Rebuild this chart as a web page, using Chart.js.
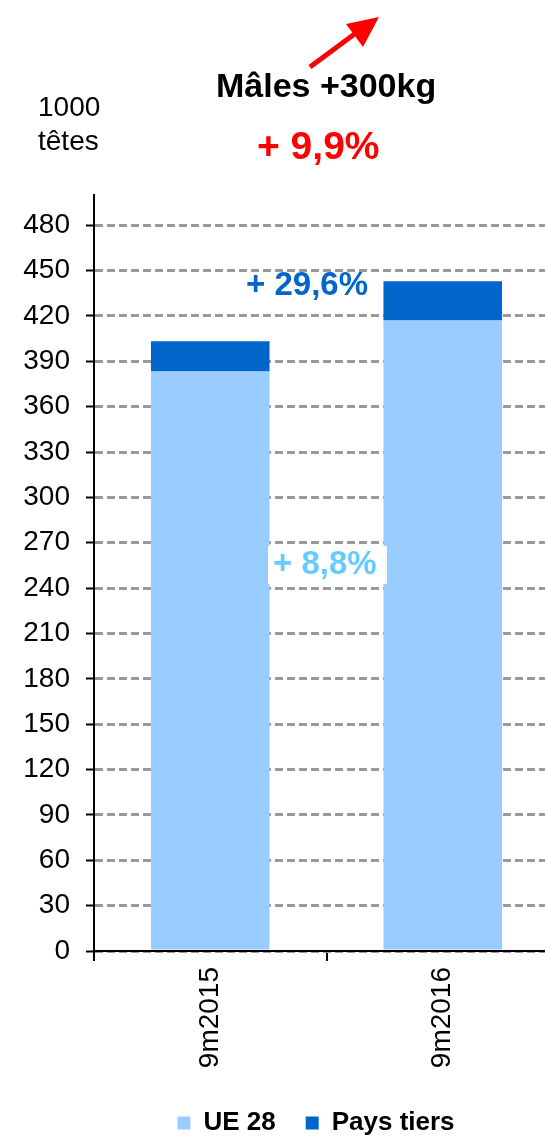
<!DOCTYPE html>
<html>
<head>
<meta charset="utf-8">
<script src="https://cdn.jsdelivr.net/npm/chart.js@4/dist/chart.umd.min.js"></script>
<style>
    html, body { margin: 0; padding: 0; background: #fff; overflow: hidden; width: 545px; height: 1136px; }
    #wrap { position: absolute; left: 0; top: 0; width: 559px; height: 1146px; }
</style>
</head>
<body>
<div id="wrap"><canvas id="bar-chartcanvas" width="559" height="1146"></canvas></div>
<script>
// data
var categories = ["9m2015", "9m2016"];
var ue28 = [383.3, 417.0];
var paysTiers = [20.0, 25.9];
var yTickValues = [0, 30, 60, 90, 120, 150, 180, 210, 240, 270, 300, 330, 360, 390, 420, 450, 480];
var seriesNames = ["UE 28", "Pays tiers"];

var FONT = "'Liberation Sans', Arial, sans-serif";

//texts and arrow drawn over the chart
var annotations = {
    id: "annotations",
    afterLayout: function(chart) {
        //move the legend a bit to the left, like the original
        chart.legend.left -= 21;
    },
    afterDraw: function(chart) {
        var c = chart.ctx;
        c.save();
        c.textAlign = "left";
        c.textBaseline = "middle";

        c.fillStyle = "#000";
        c.font = "28px " + FONT;
        c.fillText("1000", 38, 108);
        c.fillText("têtes", 38, 142);

        c.font = "bold 34px " + FONT;
        c.fillText("Mâles +300kg", 216, 88);

        c.fillStyle = "#FF0000";
        c.font = "bold 39px " + FONT;
        c.fillText("+ 9,9%", 257, 148);

        c.fillStyle = "#0066CC";
        c.font = "bold 33px " + FONT;
        c.fillText("+ 29,6%", 246, 286);

        c.fillStyle = "#fff";
        c.fillRect(268, 546, 119, 38);
        c.fillStyle = "#66CCFF";
        c.fillText("+ 8,8%", 273, 565);

        //red arrow
        c.strokeStyle = "#FF0000";
        c.fillStyle = "#FF0000";
        c.lineWidth = 5;
        c.beginPath();
        c.moveTo(310, 67);
        c.lineTo(364, 27);
        c.stroke();
        c.beginPath();
        c.moveTo(379, 17);
        c.lineTo(346, 24);
        c.lineTo(363, 47);
        c.closePath();
        c.fill();
        c.restore();
    }
};

var ctx1 = document.getElementById("bar-chartcanvas");

var data1 = {
    labels: categories,
    datasets: [
        {
            label: seriesNames[0],
            data: ue28,
            backgroundColor: "#99CCFF",
            barPercentage: 0.51,
            categoryPercentage: 1.0
        },
        {
            label: seriesNames[1],
            data: paysTiers,
            backgroundColor: "#0066CC",
            barPercentage: 0.51,
            categoryPercentage: 1.0
        }
    ]
};

var options = {
    responsive: false,
    animation: false,
    layout: {
        padding: { top: 195, left: 0, right: 0, bottom: 0 }
    },
    plugins: {
        title: { display: false },
        tooltip: { enabled: false },
        legend: {
            display: true,
            position: "bottom",
            fullSize: false,
            labels: {
                boxWidth: 13,
                boxHeight: 13,
                padding: 30,
                color: "#000",
                font: { family: FONT, size: 26, weight: "bold" }
            }
        }
    },
    scales: {
        x: {
            stacked: true,
            afterFit: function(scale) { scale.height = 129; },
            grid: {
                offset: true,
                drawOnChartArea: false,
                color: "#000",
                lineWidth: 2,
                tickLength: 10
            },
            border: { color: "#000", width: 2 },
            ticks: {
                color: "#000",
                font: { family: FONT, size: 28 },
                minRotation: 90,
                maxRotation: 90,
                padding: 6
            }
        },
        y: {
            stacked: true,
            min: 0,
            max: 500,
            afterFit: function(scale) { scale.width = 94; },
            afterBuildTicks: function(scale) {
                scale.ticks = yTickValues.map(function(v) { return { value: v }; });
            },
            grid: {
                color: "#999999",
                lineWidth: 3,
                tickColor: "#000",
                tickWidth: 2,
                tickLength: 8
            },
            border: { color: "#000", width: 2, dash: [8, 4] },
            ticks: {
                color: "#000",
                font: { family: FONT, size: 28 },
                padding: 16
            }
        }
    }
};

var chart1 = new Chart(ctx1, {
    type: "bar",
    data: data1,
    options: options,
    plugins: [annotations]
});
</script>
</body>
</html>
